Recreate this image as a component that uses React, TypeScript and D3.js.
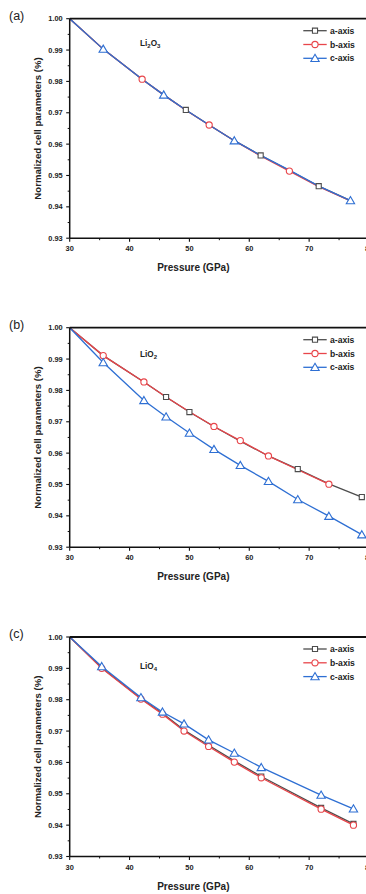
import { scaleLinear, line, symbol, symbolSquare, symbolCircle, symbolTriangle, range } from "d3";

// tick values shared by every panel
const pressureTicks = [30, 40, 50, 60, 70, 80];
const ratioTicks = [0.93, 0.94, 0.95, 0.96, 0.97, 0.98, 0.99, 1.0];
const seriesNames = ["a-axis", "b-axis", "c-axis"];

// (a) Li2O3
const pressureLi2O3 = [30, 35.6, 42.1, 45.7, 49.4, 53.3, 57.5, 61.9, 66.7, 71.6, 76.9];
const li2o3A = [1.0, 0.9903, 0.9807, 0.9757, 0.9709, 0.9661, 0.9611, 0.9564, 0.9516, 0.9466, 0.942];
const li2o3B = [1.0, 0.9903, 0.9807, 0.9757, 0.9708, 0.9661, 0.9611, 0.9562, 0.9514, 0.9464, 0.9419];
const li2o3C = [1.0, 0.9903, 0.9807, 0.9757, 0.9709, 0.9661, 0.9611, 0.9564, 0.9517, 0.9466, 0.942];
const li2o3Marks = [[4, 7, 9], [2, 5, 8], [1, 3, 6, 10]];

// (b) LiO2
const pressureLiO2 = [30, 35.6, 42.4, 46.1, 50.0, 54.1, 58.5, 63.2, 68.1, 73.3, 78.8];
const lio2A = [1.0, 0.9911, 0.9827, 0.9779, 0.9731, 0.9685, 0.9638, 0.9591, 0.9549, 0.9502, 0.946];
const lio2B = [1.0, 0.9911, 0.9827, 0.9779, 0.9732, 0.9685, 0.964, 0.9591, 0.9547, 0.9501];
const lio2C = [1.0, 0.9889, 0.9768, 0.9716, 0.9664, 0.9612, 0.9561, 0.951, 0.9452, 0.9399, 0.934];
const lio2Marks = [[3, 4, 8, 10], [1, 2, 5, 6, 7, 9], [1, 2, 3, 4, 5, 6, 7, 8, 9, 10]];

// (c) LiO4
const pressureLiO4 = [30, 35.35, 41.9, 45.5, 49.1, 53.2, 57.5, 62.0, 72.0, 77.4];
const lio4A = [1.0, 0.9902, 0.9804, 0.9757, 0.9703, 0.9655, 0.9605, 0.9555, 0.9455, 0.9404];
const lio4B = [1.0, 0.99, 0.9802, 0.9754, 0.97, 0.9651, 0.9601, 0.9551, 0.9451, 0.94];
const lio4C = [1.0, 0.9906, 0.9807, 0.9761, 0.9723, 0.9672, 0.963, 0.9584, 0.9496, 0.9452];
const lio4Marks = [[7, 8, 9], [1, 2, 3, 4, 5, 6, 7, 8, 9], [1, 2, 3, 4, 5, 6, 7, 8, 9]];

const colors = ["#4d4d4d", "#e8454a", "#2e6fd3"];
const shapes = [symbolSquare, symbolCircle, symbolTriangle];
const sizes = [26, 30, 30];
const font = "'Liberation Sans', Arial, sans-serif";

const left = 69.7;
const right = 369;
const plotH = 219.5;

function Marker({ i, x, y }) {
  const d = symbol().type(shapes[i]).size(sizes[i])();
  return (
    <path
      d={d}
      transform={`translate(${x},${y + (i === 2 ? 0.8 : 0)})`}
      fill="white"
      stroke={colors[i]}
      strokeWidth={1.1}
    />
  );
}

function Panel({ top, tag, formula, sub, pressures, series, marks, formulaDy }) {
  const x = scaleLinear().domain([30, 80]).range([left, right]);
  const y = scaleLinear().domain([0.93, 1.0]).range([top + plotH, top]);
  const bottom = top + plotH;
  const minorX = range(35, 80, 10);
  const minorY = range(0.935, 1.0, 0.01);

  return (
    <g fontFamily={font}>
      <text x={9} y={top + 1} fontSize={12.5} fill="#222">{tag}</text>

      {series.map((vals, i) => {
        const pts = vals.map((v, k) => [pressures[k], v]);
        const path = line()
          .x((d) => x(d[0]))
          .y((d) => y(d[1]))(pts);
        return <path key={"l" + i} d={path} fill="none" stroke={colors[i]} strokeWidth={1.3} />;
      })}
      {series.map((vals, i) =>
        marks[i].map((k) => <Marker key={"m" + i + "-" + k} i={i} x={x(pressures[k])} y={y(vals[k])} />)
      )}

      {/* frame */}
      <line x1={left} x2={right} y1={top} y2={top} stroke="#111" strokeWidth={1.8} />
      <line x1={left} x2={right} y1={bottom} y2={bottom} stroke="#111" strokeWidth={1.5} />
      <line x1={left} x2={left} y1={top} y2={bottom} stroke="#111" strokeWidth={1.5} />

      {/* y axis */}
      {ratioTicks.map((t) => (
        <g key={"yt" + t}>
          <line x1={left - 3.5} x2={left} y1={y(t)} y2={y(t)} stroke="#111" strokeWidth={1.1} />
          <text x={left - 7} y={y(t) + 2.6} fontSize={7.4} fontWeight="bold" textAnchor="end" fill="#222">
            {t.toFixed(2)}
          </text>
        </g>
      ))}
      {minorY.map((t) => (
        <line key={"ym" + t} x1={left - 2} x2={left} y1={y(t)} y2={y(t)} stroke="#111" strokeWidth={1} />
      ))}

      {/* x axis */}
      {pressureTicks.map((t) => (
        <g key={"xt" + t}>
          <line x1={x(t)} x2={x(t)} y1={bottom} y2={bottom + 3.5} stroke="#111" strokeWidth={1.1} />
          <text x={x(t)} y={bottom + 13} fontSize={7.4} fontWeight="bold" textAnchor="middle" fill="#222">
            {t}
          </text>
        </g>
      ))}
      {minorX.map((t) => (
        <line key={"xm" + t} x1={x(t)} x2={x(t)} y1={bottom} y2={bottom + 2} stroke="#111" strokeWidth={1} />
      ))}

      <text x={(left + 309) / 2 + 4} y={bottom + 33} fontSize={10} fontWeight="bold" textAnchor="middle" fill="#222">
        Pressure (GPa)
      </text>
      <text
        transform={`translate(40.5,${top + plotH / 2}) rotate(-90)`}
        fontSize={9.6}
        fontWeight="bold"
        textAnchor="middle"
        fill="#222"
      >
        Normalized cell parameters (%)
      </text>

      {/* compound */}
      <text x={140} y={top + formulaDy} fontSize={8.2} fontWeight="bold" fill="#222">
        {formula.flatMap((f, k) => [
          <tspan key={"f" + k} dy={k === 0 ? 0 : -2}>{f}</tspan>,
          <tspan key={"s" + k} fontSize={6} dy={2}>{sub[k]}</tspan>,
        ])}
      </text>

      {/* legend */}
      {seriesNames.map((n, i) => {
        const ly = top + 12 + i * 13.8;
        return (
          <g key={"lg" + n}>
            <line x1={303.3} x2={326.7} y1={ly} y2={ly} stroke={colors[i]} strokeWidth={1.3} />
            <Marker i={i} x={315} y={ly} />
            <text x={330} y={ly + 3} fontSize={8.6} fontWeight="bold" fill="#222">{n}</text>
          </g>
        );
      })}
    </g>
  );
}

export default function App() {
  return (
    <svg
      width={366}
      height={894}
      style={{ position: "absolute", left: 0, top: 0, background: "white" }}
    >
      <Panel
        top={18.7}
        tag="(a)"
        formula={["Li", "O"]}
        sub={["2", "3"]}
        formulaDy={27}
        pressures={pressureLi2O3}
        series={[li2o3A, li2o3B, li2o3C]}
        marks={li2o3Marks}
      />
      <Panel
        top={327.7}
        tag="(b)"
        formula={["LiO"]}
        sub={["2"]}
        formulaDy={29.5}
        pressures={pressureLiO2}
        series={[lio2A, lio2B, lio2C]}
        marks={lio2Marks}
      />
      <Panel
        top={637}
        tag="(c)"
        formula={["LiO"]}
        sub={["4"]}
        formulaDy={32}
        pressures={pressureLiO4}
        series={[lio4A, lio4B, lio4C]}
        marks={lio4Marks}
      />
    </svg>
  );
}
